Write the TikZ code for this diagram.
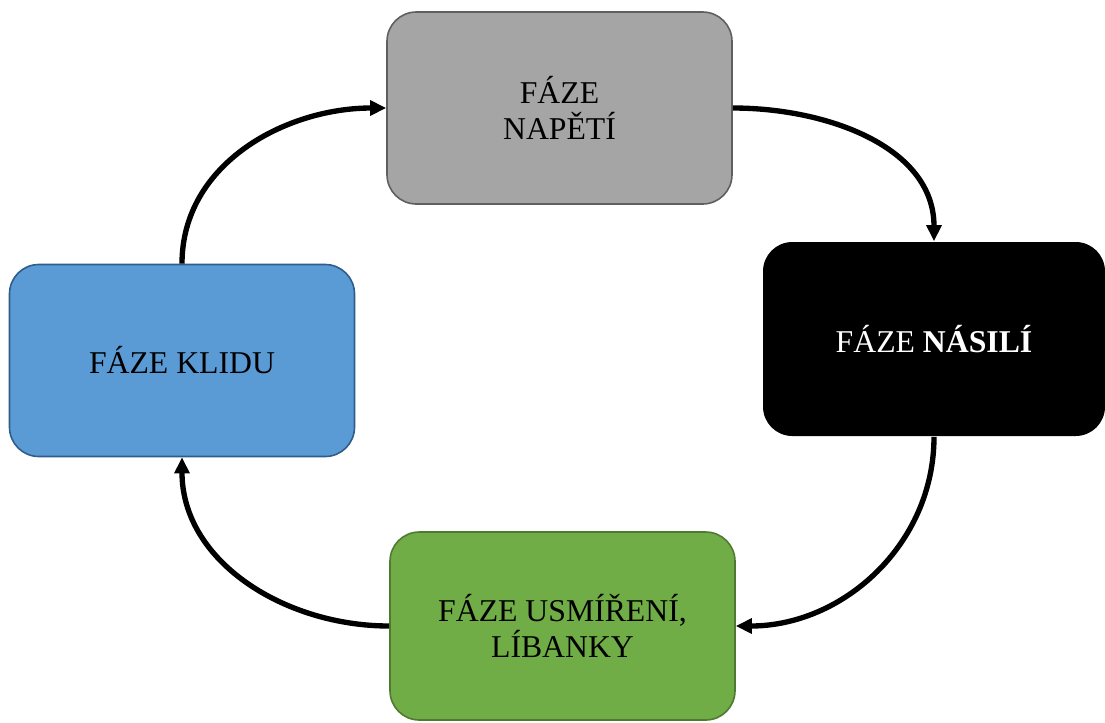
\documentclass[tikz,border=0pt]{standalone}
\usepackage{fontspec}
\setmainfont{Liberation Serif}
\usetikzlibrary{arrows.meta}

\definecolor{napetifill}{HTML}{A5A5A5}
\definecolor{napetiline}{HTML}{5F5F5F}
\definecolor{usmirenifill}{HTML}{70AD47}
\definecolor{usmireniline}{HTML}{4F7A30}
\definecolor{kliduFill}{HTML}{5B9BD5}
\definecolor{kliduline}{HTML}{2F5D8A}

\begin{document}
\begin{tikzpicture}[x=0.75pt, y=-0.75pt, faze/.style={rectangle, rounded corners=22pt, minimum width=258.75pt, minimum height=144pt, align=center, line width=1.2pt, font=\fontsize{23.8}{27}\selectfont}, link/.style={->, line width=4pt}, >={Triangle[length=12pt,width=11pt]}]
            \useasboundingbox (0,0) rectangle (1105,722);
            % Nodes
            \node[faze, fill=napetifill, draw=napetiline] (napeti) at (559.5,108) {FÁZE\\NAPĚTÍ};
            \node[faze, fill=black, text=white, minimum width=256.5pt, minimum height=145.5pt] (nasili) at (934,339) {FÁZE \textbf{NÁSILÍ}};
            \node[faze, fill=usmirenifill, draw=usmireniline, minimum height=141pt] (usmireni) at (562.5,626) {FÁZE USMÍŘENÍ,\\LÍBANKY};
            \node[faze, fill=kliduFill, draw=kliduline] (klidu) at (182,360.5) {FÁZE KLIDU};
            % Arrows
            \draw[link] (napeti.east) to[out=0, in=90] (nasili.north);
            \draw[link] (nasili.south) to[out=-90, in=0] (usmireni.east);
            \draw[link] (usmireni.west) to[out=180, in=-90] (klidu.south);
            \draw[link] (klidu.north) to[out=90, in=180] (napeti.west);
        \end{tikzpicture}
\end{document}
